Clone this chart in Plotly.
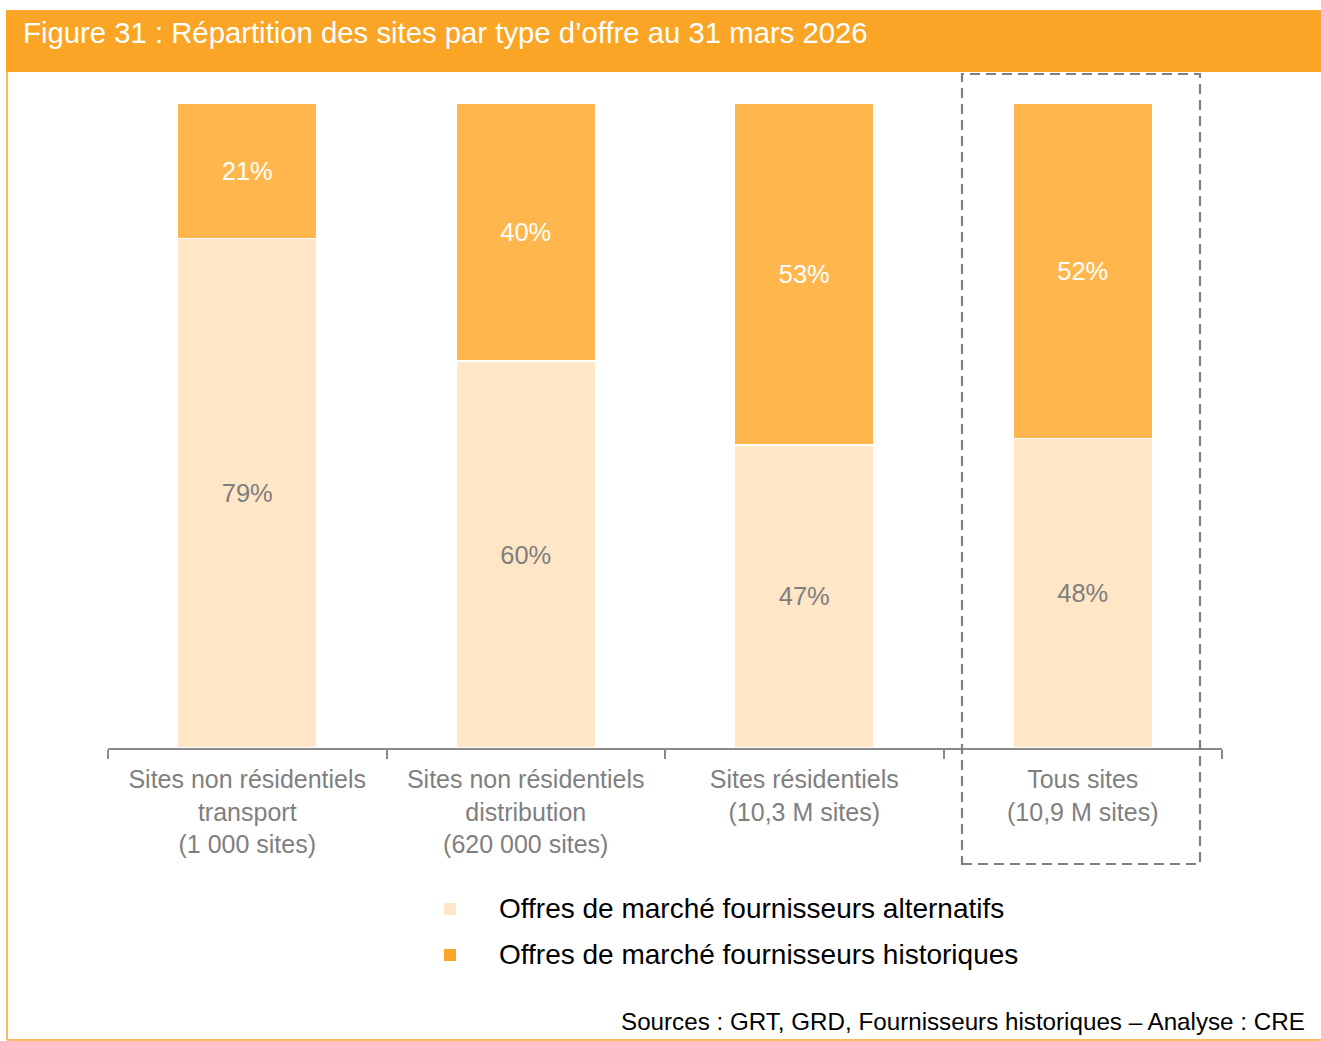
import plotly.graph_objects as go

categories = [
    "Sites non résidentiels<br>transport<br>(1 000 sites)",
    "Sites non résidentiels<br>distribution<br>(620 000 sites)",
    "Sites résidentiels<br>(10,3 M sites)",
    "Tous sites<br>(10,9 M sites)",
]
alternatifs = [79, 60, 47, 48]
historiques = [21, 40, 53, 52]
series_names = [
    "Offres de marché fournisseurs alternatifs",
    "Offres de marché fournisseurs historiques",
]
title_text = "Figure 31 : Répartition des sites par type d\u2019offre au 31 mars 2026"
source_text = "Sources : GRT, GRD, Fournisseurs historiques \u2013 Analyse : CRE"

W, H = 1321, 1041
L, R, T, B = 108, 1222, 103, 748
FONT = "Liberation Sans, Arial, sans-serif"
ORANGE = "#FBA526"
BAR_HIST = "#FFB74D"
BAR_ALT = "#FFE6C6"
GRAY = "#7F7F7F"


def px(x):
    return (x - L) / (R - L)


def py(y):
    return (B - y) / (B - T)


fig = go.Figure()
fig.add_trace(go.Bar(
    x=categories, y=alternatifs, name=series_names[0],
    marker=dict(color=BAR_ALT, line=dict(color="white", width=1.5)),
    text=[f"{v}%" for v in alternatifs], textposition="inside",
    insidetextanchor="middle", textangle=0,
    textfont=dict(color=GRAY, size=25.5, family=FONT),
    hoverinfo="skip",
))
fig.add_trace(go.Bar(
    x=categories, y=historiques, name=series_names[1],
    marker=dict(color=BAR_HIST, line=dict(color="white", width=1.5)),
    text=[f"{v}%" for v in historiques], textposition="inside",
    insidetextanchor="middle", textangle=0,
    textfont=dict(color="white", size=25.5, family=FONT),
    hoverinfo="skip",
))

shapes = [
    # title bar
    dict(type="rect", xref="paper", yref="paper", x0=px(6), x1=px(1321), y0=py(72), y1=py(10),
         fillcolor=ORANGE, line=dict(width=0), layer="below"),
    # left and bottom frame lines
    dict(type="line", xref="paper", yref="paper", x0=px(7), x1=px(7), y0=py(72), y1=py(1040),
         line=dict(color=ORANGE, width=1.5)),
    dict(type="line", xref="paper", yref="paper", x0=px(7), x1=px(1321), y0=py(1040), y1=py(1040),
         line=dict(color=ORANGE, width=1.5)),
    # dashed highlight box
    dict(type="rect", xref="paper", yref="paper", x0=px(962), x1=px(1200), y0=py(864), y1=py(74),
         line=dict(color=GRAY, width=2.2, dash="10px,6px"), fillcolor="rgba(0,0,0,0)"),
    # legend markers
    dict(type="rect", xref="paper", yref="paper", x0=px(444), x1=px(456), y0=py(915), y1=py(903),
         fillcolor=BAR_ALT, line=dict(width=0)),
    dict(type="rect", xref="paper", yref="paper", x0=px(444), x1=px(456), y0=py(961), y1=py(949),
         fillcolor=ORANGE, line=dict(width=0)),
]

annotations = [
    dict(text=title_text, xref="paper", yref="paper", x=px(21), y=py(32), xanchor="left",
         yanchor="middle", showarrow=False, font=dict(color="white", size=29.3, family=FONT)),
    dict(text=series_names[0], xref="paper", yref="paper", x=px(497), y=py(908), xanchor="left",
         yanchor="middle", showarrow=False, font=dict(color="black", size=28, family=FONT)),
    dict(text=series_names[1], xref="paper", yref="paper", x=px(497), y=py(954), xanchor="left",
         yanchor="middle", showarrow=False, font=dict(color="black", size=28, family=FONT)),
    dict(text=source_text, xref="paper", yref="paper", x=px(1307), y=py(1021), xanchor="right",
         yanchor="middle", showarrow=False, font=dict(color="black", size=24.2, family=FONT)),
]

fig.update_layout(
    width=W, height=H,
    margin=dict(l=L, r=W - R, t=T, b=H - B, pad=0),
    paper_bgcolor="white", plot_bgcolor="white",
    barmode="stack", bargap=0.5,
    showlegend=False,
    shapes=shapes, annotations=annotations,
    font=dict(family=FONT),
    xaxis=dict(showline=True, linecolor="#898989", linewidth=2, ticks="outside",
               tickson="boundaries", ticklen=9, tickwidth=2, tickcolor="#898989",
               tickfont=dict(color=GRAY, size=25, family=FONT), showgrid=False,
               ticklabelstandoff=8, fixedrange=True),
    yaxis=dict(visible=False, range=[0, 100], fixedrange=True),
)

fig.write_html(
    "out.html",
    config={"displayModeBar": False, "staticPlot": True},
    post_script="document.body.style.margin='0';document.body.style.overflow='hidden';",
)
